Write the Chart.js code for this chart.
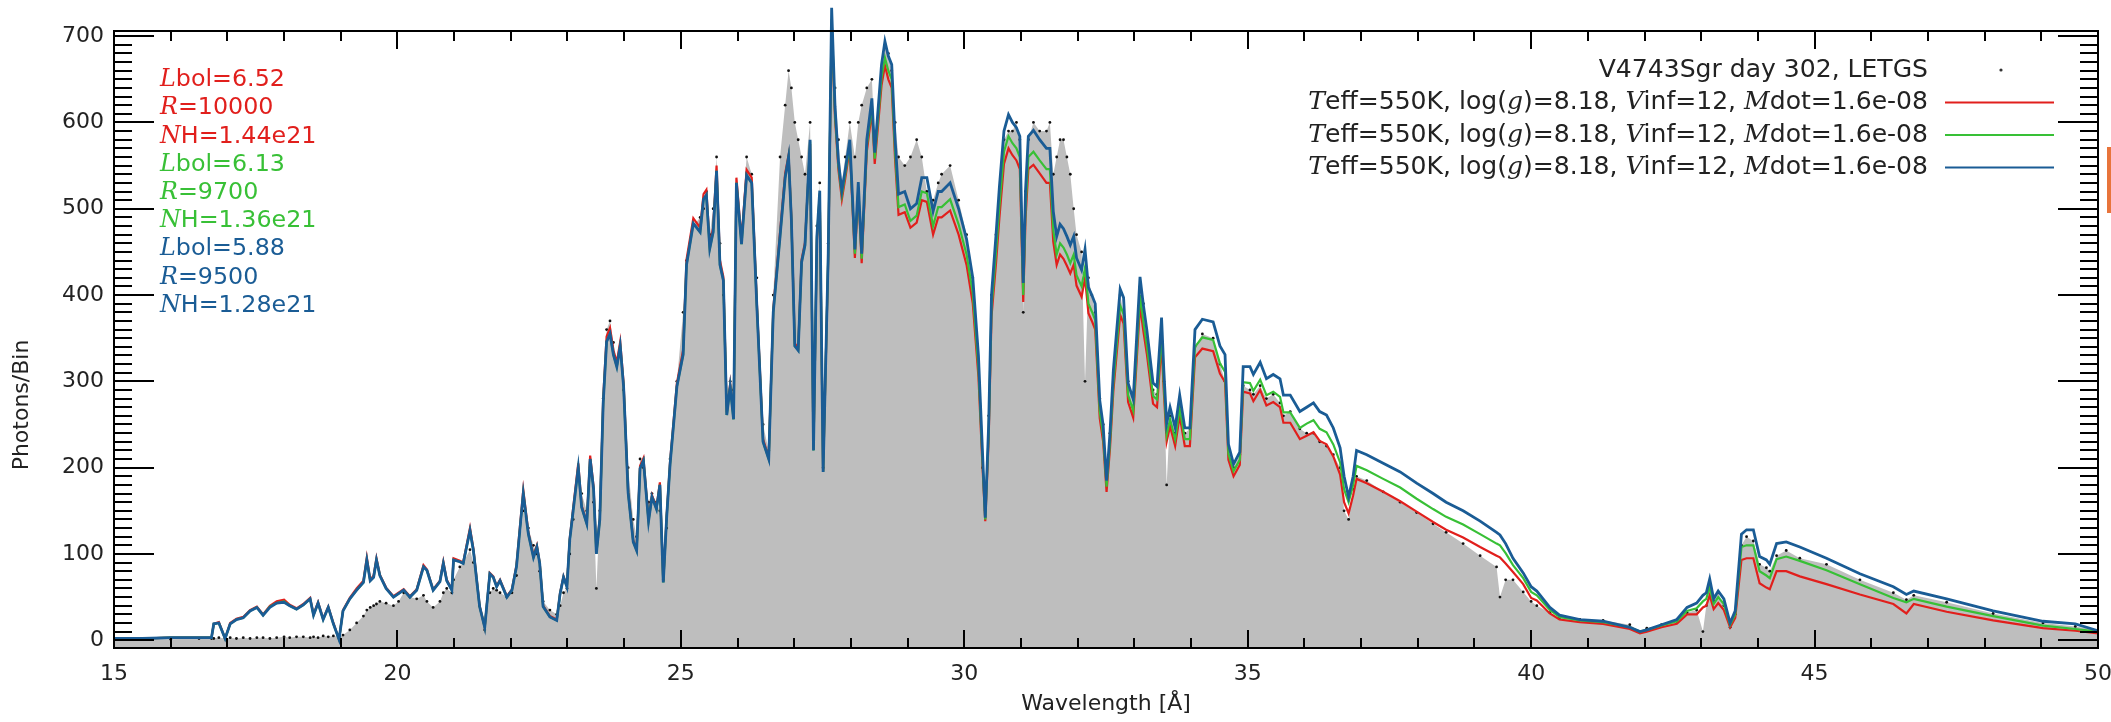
<!DOCTYPE html>
<html><head><meta charset="utf-8">
<script src="https://cdn.jsdelivr.net/npm/chart.js@4.4.1/dist/chart.umd.min.js"></script>
<style>html,body{margin:0;padding:0;background:#fff;}#wrap{width:2111px;height:722px;}</style>
</head><body><div id="wrap"><canvas id="c" width="2111" height="722"></canvas></div>
<script>
// ---------------- DATA ----------------
const wavelength = [15.0,15.5,16.0,16.5,16.72,16.76,16.85,16.96,17.05,17.16,17.28,17.40,17.52,17.63,17.75,17.87,18.00,18.10,18.22,18.34,18.46,18.52,18.60,18.69,18.78,18.87,18.97,19.04,19.16,19.28,19.40,19.46,19.52,19.58,19.63,19.69,19.80,19.93,20.02,20.11,20.22,20.34,20.46,20.52,20.63,20.75,20.81,20.87,20.96,20.99,21.10,21.16,21.28,21.34,21.45,21.54,21.63,21.69,21.75,21.81,21.93,22.02,22.10,22.22,22.31,22.40,22.46,22.51,22.57,22.69,22.81,22.87,22.93,22.99,23.04,23.10,23.19,23.25,23.34,23.40,23.46,23.51,23.57,23.63,23.69,23.75,23.81,23.87,23.93,23.99,24.07,24.16,24.22,24.28,24.34,24.43,24.49,24.57,24.63,24.69,24.75,24.81,24.93,25.04,25.10,25.22,25.34,25.40,25.45,25.51,25.57,25.63,25.69,25.75,25.81,25.87,25.93,25.98,26.07,26.16,26.25,26.34,26.45,26.55,26.63,26.75,26.84,26.90,26.95,27.01,27.07,27.13,27.19,27.28,27.34,27.40,27.45,27.51,27.60,27.66,27.72,27.78,27.84,27.90,27.98,28.07,28.13,28.19,28.28,28.37,28.42,28.54,28.60,28.66,28.72,28.78,28.84,28.95,29.05,29.16,29.25,29.34,29.45,29.54,29.60,29.75,29.90,30.04,30.15,30.25,30.32,30.37,30.43,30.48,30.56,30.62,30.70,30.78,30.85,30.92,30.98,31.04,31.08,31.13,31.22,31.33,31.45,31.51,31.57,31.63,31.69,31.75,31.81,31.87,31.93,31.98,32.07,32.13,32.19,32.25,32.31,32.39,32.45,32.51,32.57,32.63,32.75,32.81,32.89,32.98,33.10,33.16,33.22,33.33,33.40,33.48,33.52,33.57,33.63,33.72,33.80,33.89,33.98,34.07,34.20,34.39,34.51,34.60,34.66,34.75,34.86,34.92,35.04,35.10,35.22,35.33,35.45,35.57,35.63,35.75,35.92,36.04,36.16,36.27,36.39,36.51,36.63,36.70,36.78,36.86,36.92,37.10,37.39,37.69,37.98,38.27,38.50,38.80,39.10,39.39,39.45,39.55,39.68,39.86,40.00,40.10,40.33,40.50,40.86,41.27,41.74,41.92,42.04,42.30,42.57,42.75,42.92,43.03,43.09,43.15,43.22,43.30,43.40,43.51,43.60,43.71,43.80,43.92,44.03,44.15,44.21,44.33,44.50,44.74,45.21,45.80,46.39,46.62,46.75,47.33,48.15,49.03,49.60,50.00];

const modelBlue = [2,2,3,3,3,19,20,2,19,24,26,34,38,29,38,43,44,40,36,41,48,29,43,24,38,19,1,34,48,58,67,93,69,73,93,75,60,50,54,58,50,58,85,81,58,68,89,69,58,93,91,89,127,104,39,15,77,73,62,69,50,58,85,170,123,96,108,89,39,27,23,54,73,62,116,150,200,154,135,210,175,100,140,275,346,355,331,317,341,294,171,114,104,199,208,138,166,152,180,67,143,204,294,331,435,483,473,511,516,454,473,544,435,417,261,294,256,530,459,539,530,388,230,210,380,468,536,560,487,341,336,438,458,580,220,468,521,195,448,733,618,555,521,545,580,453,531,448,580,628,565,667,694,677,667,580,517,520,500,506,536,536,497,520,520,530,500,465,420,330,220,142,250,400,470,526,590,609,600,594,584,414,521,584,591,580,570,570,497,468,482,477,468,458,468,443,429,453,409,400,390,278,249,185,240,313,407,397,298,279,421,388,360,298,294,374,313,251,270,246,284,246,246,360,372,369,341,331,227,204,218,317,317,308,322,303,308,303,284,284,265,270,275,265,261,246,223,190,166,190,220,215,205,195,182,170,160,150,138,125,122,112,95,78,62,57,38,29,24,22,15,10,12,18,24,38,43,52,55,71,48,57,48,20,34,123,128,128,97,93,88,112,114,108,95,77,62,53,57,48,34,22,19,11];

const modelGreen = [2,2,3,3,3,19,20,2,19,24,26,34,38,29,39,43,45,40,36,41,48,29,43,24,38,19,1,34,48,58,67,93,69,73,93,75,60,50,54,58,50,58,85,81,58,68,89,69,58,93,91,89,127,104,39,15,77,73,62,69,50,58,85,170,123,96,108,89,39,27,23,54,73,62,116,150,200,154,135,210,175,100,140,275,346,355,331,317,341,294,171,114,104,199,208,138,166,152,180,67,143,204,294,331,435,483,473,511,516,454,473,544,435,417,261,294,256,530,459,539,530,388,230,210,380,468,536,560,487,341,336,438,458,578,220,466,518,195,445,720,610,550,516,540,575,448,525,442,572,620,558,652,675,660,650,565,502,505,486,492,520,518,480,502,502,511,482,447,402,315,210,140,240,385,450,503,566,584,576,570,560,400,500,560,566,556,546,546,475,447,460,455,447,437,447,423,410,432,390,381,371,265,237,178,229,298,388,378,284,266,400,369,342,283,279,355,297,238,256,233,269,233,233,340,351,348,321,311,216,196,209,299,298,289,302,284,288,282,264,264,246,251,255,245,241,227,206,175,160,180,202,197,187,177,164,152,143,134,123,112,110,101,87,72,56,52,35,27,23,21,15,10,12,17,22,34,37,45,48,62,42,50,42,18,30,108,110,110,80,75,72,94,97,92,81,65,49,44,48,39,28,17,13,10];

const modelRed = [2,2,3,3,3,19,21,2,20,25,27,35,39,30,40,45,47,41,37,42,49,30,44,25,39,20,1,35,49,60,69,96,70,75,95,76,61,51,55,59,51,59,87,82,59,69,91,70,59,95,92,90,130,106,40,15,78,74,63,70,51,59,87,174,125,98,110,90,40,28,24,55,74,63,118,153,205,156,137,214,178,102,142,280,352,362,336,322,346,298,173,116,106,202,211,140,168,154,183,68,145,207,298,336,441,489,478,517,522,458,478,550,440,421,264,297,259,536,464,545,536,392,233,212,384,473,541,562,490,344,339,441,461,575,221,463,515,196,442,712,605,545,511,535,570,443,520,437,566,613,552,643,666,650,640,556,493,496,478,484,510,508,470,490,490,498,470,435,390,305,203,138,233,375,437,490,552,570,562,556,546,392,488,546,551,541,530,530,462,435,447,442,434,425,435,411,398,420,379,370,360,257,230,172,222,289,377,367,276,258,388,358,332,274,270,344,288,230,248,225,260,225,225,328,338,335,309,299,209,190,203,288,286,277,290,272,276,270,252,252,233,237,241,231,227,213,192,160,147,168,187,182,172,161,149,137,128,119,108,98,96,89,79,65,49,46,31,24,21,19,13,8,10,15,19,30,30,38,40,52,36,43,35,15,26,93,95,95,66,61,59,80,80,74,65,53,42,31,42,33,23,14,11,8];

const observed = [1,2,1,2,2,2,3,2,3,2,3,2,3,3,2,3,4,3,4,4,3,4,3,5,4,5,4,6,12,20,28,35,38,40,42,45,43,40,45,55,50,48,52,45,38,45,55,60,55,70,85,90,105,90,40,12,55,60,58,55,50,55,75,150,130,110,100,80,45,35,30,40,55,60,100,140,190,170,150,200,160,60,150,280,360,370,345,320,330,290,200,140,120,210,200,160,170,160,150,70,130,210,300,380,440,480,490,500,520,470,500,560,460,400,280,300,290,520,480,560,540,420,250,220,400,560,620,660,640,600,580,560,540,600,250,480,530,200,460,725,640,580,530,560,600,560,600,620,640,650,580,650,690,680,660,600,560,550,560,580,560,520,510,530,540,550,510,470,420,320,200,150,260,400,470,520,580,590,590,600,580,380,520,580,600,590,590,600,540,560,580,580,560,540,500,470,450,300,420,400,380,280,250,190,240,310,400,380,300,270,410,390,350,290,285,360,300,180,260,240,270,240,245,340,355,350,320,300,220,200,215,295,290,285,295,280,285,275,260,265,245,240,240,230,225,215,200,150,140,175,190,185,172,160,148,135,125,112,98,85,50,70,70,56,45,40,32,26,24,23,18,10,14,18,22,32,35,10,40,65,45,55,40,15,30,110,120,115,88,84,80,98,104,95,88,70,55,47,52,44,31,20,16,12];

const xTickValues = [15,20,25,30,35,40,45,50];
const yTickValues = [0,100,200,300,400,500,600,700];
const X_MINOR_STEP = 1, Y_MINOR_STEP = 10;

const SERIES_COLORS = {red:'#e11f1c', green:'#38c036', blue:'#1a5c95'};
const annotationLines = [
  {text:'*L*bol=6.52', color:'red'},
  {text:'*R*=10000', color:'red'},
  {text:'*N*H=1.44e21', color:'red'},
  {text:'*L*bol=6.13', color:'green'},
  {text:'*R*=9700', color:'green'},
  {text:'*N*H=1.36e21', color:'green'},
  {text:'*L*bol=5.88', color:'blue'},
  {text:'*R*=9500', color:'blue'},
  {text:'*N*H=1.28e21', color:'blue'}
];
const legendTitle = 'V4743Sgr day 302, LETGS';
const legendLabels = [
  {text:'*T*eff=550K, log(*g*)=8.18, *V*inf=12, *M*dot=1.6e-08', color:'red'},
  {text:'*T*eff=550K, log(*g*)=8.18, *V*inf=12, *M*dot=1.6e-08', color:'green'},
  {text:'*T*eff=550K, log(*g*)=8.18, *V*inf=12, *M*dot=1.6e-08', color:'blue'}
];
const xTitle = 'Wavelength [Å]';
const yTitle = 'Photons/Bin';

// ---------------- HELPERS ----------------
const pts = arr => wavelength.map((x,i)=>({x:x, y:arr[i]}));
function parseRich(s){
  const parts=[]; const re=/\*([^*]+)\*|([^*]+)/g; let m;
  while((m=re.exec(s))){ if(m[1]) parts.push({t:m[1],i:true}); else parts.push({t:m[2],i:false}); }
  return parts;
}
const FONT_N = '"DejaVu Sans", "Liberation Sans", sans-serif';
const FONT_I = '"DejaVu Serif", "Liberation Serif", serif';
function richWidth(ctx, parts, size){
  let w=0; parts.forEach(p=>{ctx.font=(p.i?'italic ':'')+size+'px '+(p.i?FONT_I:FONT_N); p.w=ctx.measureText(p.t).width; w+=p.w;}); return w;
}
function drawRich(ctx, parts, x, y, size, color, align){
  const w = richWidth(ctx, parts, size);
  let cx = align==='right' ? x-w : x;
  ctx.fillStyle=color; ctx.textBaseline='middle'; ctx.textAlign='left';
  parts.forEach(p=>{ctx.font=(p.i?'italic ':'')+size+'px '+(p.i?FONT_I:FONT_N); ctx.fillText(p.t,cx,y); cx+=p.w;});
  return w;
}

// ---------------- DECORATION PLUGIN ----------------
const idlFrame = {
  id:'idlFrame',
  afterDraw(chart){
    const ctx = chart.ctx, ca = chart.chartArea, xs = chart.scales.x, ys = chart.scales.y;
    ctx.save();
    ctx.strokeStyle='#000'; ctx.lineWidth=2;
    ctx.strokeRect(ca.left, ca.top, ca.right-ca.left, ca.bottom-ca.top);
    ctx.beginPath();
    for(let v=xs.min; v<=xs.max+1e-9; v+=X_MINOR_STEP){
      const px = Math.round(xs.getPixelForValue(v));
      const major = xTickValues.includes(Math.round(v));
      const len = major ? 18 : 10;
      ctx.moveTo(px, ca.bottom); ctx.lineTo(px, ca.bottom-len);
      ctx.moveTo(px, ca.top); ctx.lineTo(px, ca.top+len);
    }
    for(let v=0; v<=yTickValues[yTickValues.length-1]; v+=Y_MINOR_STEP){
      const py = Math.round(ys.getPixelForValue(v));
      const major = yTickValues.includes(v);
      const len = major ? 40 : 18;
      ctx.moveTo(ca.left, py); ctx.lineTo(ca.left+len, py);
      ctx.moveTo(ca.right, py); ctx.lineTo(ca.right-len, py);
    }
    ctx.stroke();
    // tick labels
    ctx.fillStyle='#222'; ctx.font='22px '+FONT_N; ctx.textBaseline='middle';
    ctx.textAlign='center';
    xTickValues.forEach(v=>ctx.fillText(String(v), xs.getPixelForValue(v), ca.bottom+26));
    ctx.textAlign='right';
    yTickValues.forEach(v=>ctx.fillText(String(v), ca.left-10, ys.getPixelForValue(v)));
    // axis titles
    ctx.textAlign='center';
    ctx.fillText(xTitle, (ca.left+ca.right)/2, ca.bottom+56);
    ctx.save(); ctx.translate(22, 405); ctx.rotate(-Math.PI/2); ctx.fillText(yTitle,0,0); ctx.restore();
    // left annotations
    const aParts = parseRich(annotationLines[0].text);
    const aSize = 22*125/richWidth(ctx, aParts, 22);
    annotationLines.forEach((a,i)=>{
      drawRich(ctx, parseRich(a.text), ca.left+46, 80+i*28.2, aSize, SERIES_COLORS[a.color], 'left');
    });
    // legend
    const lParts = parseRich(legendLabels[0].text);
    const lSize = 22*620/richWidth(ctx, lParts, 22);
    const textRight = 1928, lineX0 = 1945, lineX1 = 2054, row0 = 70, rowH = 32.5;
    drawRich(ctx, [{t:legendTitle,i:false}], textRight, row0, lSize, '#222', 'right');
    ctx.fillStyle='#333'; ctx.beginPath(); ctx.arc(2001, row0, 1.6, 0, Math.PI*2); ctx.fill();
    legendLabels.forEach((l,i)=>{
      const y = row0 + rowH*(i+1);
      drawRich(ctx, parseRich(l.text), textRight, y, lSize, '#222', 'right');
      ctx.strokeStyle=SERIES_COLORS[l.color]; ctx.lineWidth=2.2;
      ctx.beginPath(); ctx.moveTo(lineX0,y); ctx.lineTo(lineX1,y); ctx.stroke();
    });
    // clipped element at the far right edge
    ctx.fillStyle='#e8743b'; ctx.fillRect(2107,147,4,66);
    ctx.restore();
  }
};

// ---------------- CHART ----------------
new Chart(document.getElementById('c'), {
  type:'line',
  data:{datasets:[
    {label:'observed', data:pts(observed), borderWidth:0, backgroundColor:'#bebebe', fill:'start', pointRadius:0, order:4, clip:false},
    {label:'data points', type:'scatter', data:pts(observed), pointRadius:1.4, pointBackgroundColor:'#111', pointBorderWidth:0, showLine:false, order:3},
    {label:'red', data:pts(modelRed), borderColor:SERIES_COLORS.red, borderWidth:2.2, pointRadius:0, fill:false, order:2, clip:false},
    {label:'green', data:pts(modelGreen), borderColor:SERIES_COLORS.green, borderWidth:2.2, pointRadius:0, fill:false, order:1, clip:false},
    {label:'blue', data:pts(modelBlue), borderColor:SERIES_COLORS.blue, borderWidth:2.8, pointRadius:0, fill:false, order:0, clip:false}
  ]},
  options:{
    responsive:false, animation:false, devicePixelRatio:1,
    layout:{padding:{left:0,right:13,top:31,bottom:0}},
    plugins:{legend:{display:false}, tooltip:{enabled:false}},
    scales:{
      x:{type:'linear', min:15, max:50, grid:{display:false}, border:{display:false}, ticks:{display:false},
         afterBuildTicks(s){ s.ticks = xTickValues.map(v=>({value:v})); },
         afterFit(s){ s.height = 74; }},
      y:{type:'linear', min:-9, max:706, grid:{display:false}, border:{display:false}, ticks:{display:false},
         afterBuildTicks(s){ s.ticks = yTickValues.map(v=>({value:v})); },
         afterFit(s){ s.width = 114; }}
    }
  },
  plugins:[idlFrame]
});
</script>
</body></html>
